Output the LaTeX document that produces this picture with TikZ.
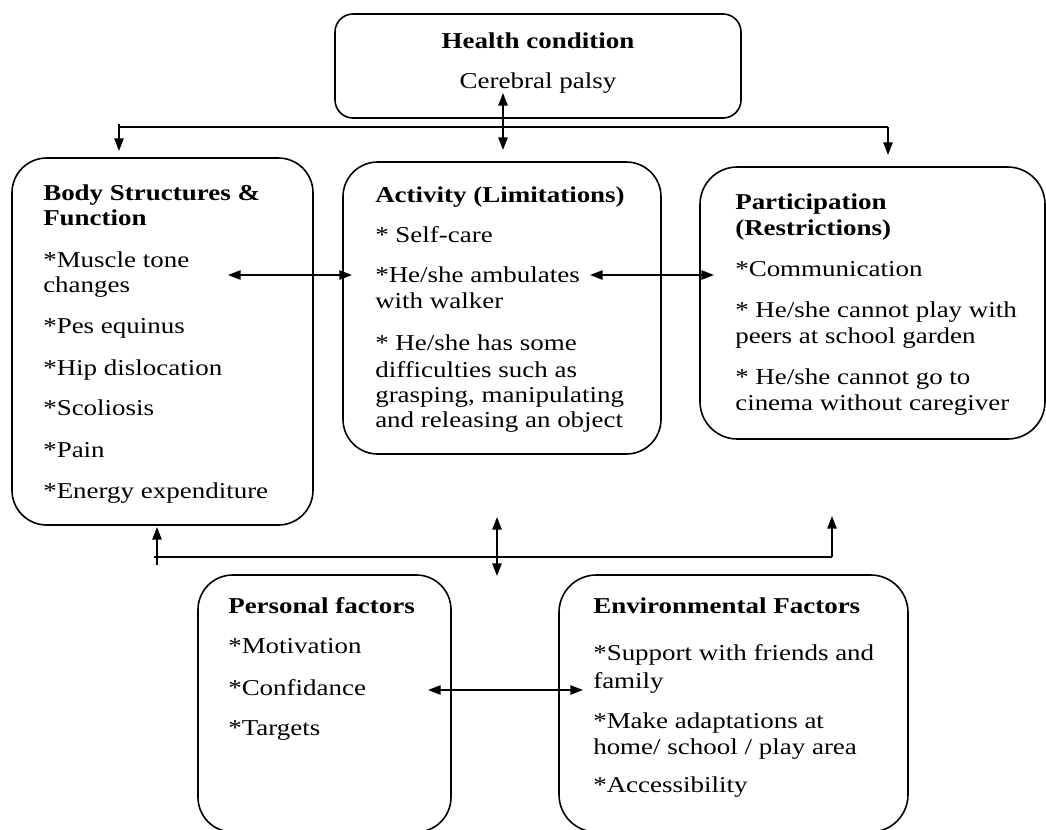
\documentclass[tikz,border=0pt]{standalone}
\usepackage{fontspec}
\setmainfont{Liberation Serif}[FakeStretch=1.19]
\usetikzlibrary{arrows.meta,fit}
\tikzset{
  box/.style={draw, line width=1.2pt, inner sep=0pt, outer sep=0pt},
  txt/.style={anchor=base west, inner sep=0pt, font=\fontsize{17}{19}\selectfont},
  ctxt/.style={anchor=base, inner sep=0pt, font=\fontsize{17}{19}\selectfont},
  conn/.style={line width=1.2pt},
  arr/.style={line width=1.2pt, -{Triangle[length=9.5pt,width=7pt]}},
  dbl/.style={line width=1.2pt, {Triangle[length=9.5pt,width=7pt]}-{Triangle[length=9.5pt,width=7pt]}}
}
\begin{document}
\begin{tikzpicture}[x=0.75pt,y=-0.75pt]
\useasboundingbox (0,0) rectangle (1046,829);
% boxes
\node[box, rounded corners=13.5pt, fit={(335,14) (741,118)}] (hc) {};
\node[box, rounded corners=26pt, fit={(12,158) (313,525)}] (body) {};
\node[box, rounded corners=26pt, fit={(343,162) (661,454)}] (act) {};
\node[box, rounded corners=28pt, fit={(700,167) (1045,439)}] (part) {};
\node[box, rounded corners=26pt, fit={(198,575) (451,832)}] (pers) {};
\node[box, rounded corners=28pt, fit={(559,575) (908,832)}] (env) {};
% texts
\node[ctxt] (hct) at (538,48) {\textbf{Health condition}};
\node[ctxt] (hcs) at (538,88) {Cerebral palsy};
\foreach \i/\y/\t in {1/200/{\textbf{Body Structures \&}}, 2/225/{\textbf{Function}},
  3/267/{*Muscle tone}, 4/292/{changes}, 5/333/{*Pes equinus}, 6/375/{*Hip dislocation},
  7/415/{*Scoliosis}, 8/457/{*Pain}, 9/498/{*Energy expenditure}}
  \node[txt] (bodyt\i) at (43,\y) {\t};
\foreach \i/\y/\t in {1/202/{\textbf{Activity (Limitations)}}, 2/242/{* Self-care},
  3/282/{*He/she ambulates}, 4/308/{with walker}, 5/350/{* He/she has some},
  6/377/{difficulties such as}, 7/402/{grasping, manipulating}, 8/427/{and releasing an object}}
  \node[txt] (actt\i) at (375,\y) {\t};
\foreach \i/\y/\t in {1/209/{\textbf{Participation}}, 2/235/{\textbf{(Restrictions)}},
  3/276/{*Communication}, 4/317/{* He/she cannot play with}, 5/343/{peers at school garden},
  6/384/{* He/she cannot go to}, 7/410/{cinema without caregiver}}
  \node[txt] (partt\i) at (735,\y) {\t};
\foreach \i/\y/\t in {1/613/{\textbf{Personal factors}}, 2/653/{*Motivation},
  3/695/{*Confidance}, 4/735/{*Targets}}
  \node[txt] (perst\i) at (228,\y) {\t};
\foreach \i/\y/\t in {1/613/{\textbf{Environmental Factors}}, 2/660/{*Support with friends and},
  3/688/{family}, 4/728/{*Make adaptations at}, 5/754/{home/ school / play area},
  6/792/{*Accessibility}}
  \node[txt] (envt\i) at (593,\y) {\t};
% connector points
\coordinate (tL) at (119,127);
\coordinate (tLs) at (119,124);
\coordinate (tLe) at (119,151);
\coordinate (tR) at (888,127);
\coordinate (tRe) at (888,155);
\coordinate (hcA) at (503,93);
\coordinate (hcB) at (503,150);
\coordinate (baL) at (228,275);
\coordinate (baR) at (352,275);
\coordinate (apL) at (590,275);
\coordinate (apR) at (714,275);
\coordinate (bL) at (154,557);
\coordinate (bR) at (832,557);
\coordinate (bLs) at (157,565);
\coordinate (bLe) at (157,527);
\coordinate (bRe) at (832,516);
\coordinate (bmA) at (497,517);
\coordinate (bmB) at (497,576);
\coordinate (peL) at (428,690);
\coordinate (peR) at (583,690);
% connectors
\draw[conn] (tL) -- (tR);
\draw[arr] (tLs) -- (tLe);
\draw[arr] (tR) -- (tRe);
\draw[dbl] (hcA) -- (hcB);
\draw[dbl] (baL) -- (baR);
\draw[dbl] (apL) -- (apR);
\draw[conn] (bL) -- (bR);
\draw[arr] (bLs) -- (bLe);
\draw[arr] (bR) -- (bRe);
\draw[dbl] (bmA) -- (bmB);
\draw[dbl] (peL) -- (peR);
\end{tikzpicture}
\end{document}
